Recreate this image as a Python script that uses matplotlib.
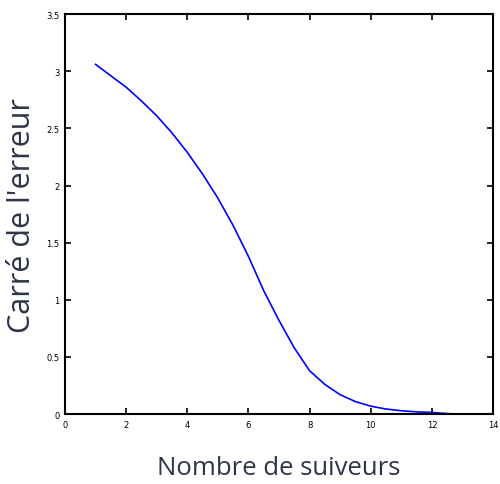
import matplotlib
matplotlib.use("Agg")
import matplotlib.pyplot as plt

# nombre de suiveurs vs carre de l'erreur
x_vals = [1, 1.5, 2, 2.5, 3, 3.5, 4, 4.5, 5, 5.5, 6, 6.5, 7, 7.5, 8,
          8.5, 9, 9.5, 10, 10.5, 11, 11.5, 12, 12.5, 13, 13.5, 14]
y_vals = [3.06, 2.96, 2.86, 2.74, 2.61, 2.46, 2.29, 2.10, 1.89, 1.65, 1.38,
          1.08, 0.82, 0.58, 0.38, 0.26, 0.17, 0.11, 0.07, 0.045, 0.03,
          0.02, 0.015, 0.005, 0.0, 0.0, 0.0]

x_ticks = [0, 2, 4, 6, 8, 10, 12, 14]
y_ticks = [0, 0.5, 1, 1.5, 2, 2.5, 3, 3.5]

label_color = "#2e3548"

fig = plt.figure(figsize=(5, 4.85), dpi=100)
ax = fig.add_axes([0.13, 0.144, 0.856, 0.825])

ax.plot(x_vals, y_vals, color="#0000ff", lw=1.2)

ax.set_xlim(0, 14)
ax.set_ylim(0, 3.5)
ax.set_xticks(x_ticks)
ax.set_yticks(y_ticks)
ax.set_xticklabels([str(t) for t in x_ticks])
ax.set_yticklabels(["0", "0.5", "1", "1.5", "2", "2.5", "3", "3.5"])
ax.tick_params(direction="in", length=4, width=1.2, labelsize=6,
               top=True, right=True, pad=4)
for s in ax.spines.values():
    s.set_linewidth(1.5)

ax.set_xlabel("Nombre de suiveurs", fontsize=18.5, family="Open Sans",
              color=label_color, labelpad=19)
ax.set_ylabel("Carré de l'erreur", fontsize=22, family="Open Sans",
              color=label_color)
ax.yaxis.set_label_coords(-0.065, 0.5)

plt.savefig("out.png", dpi=100)
plt.close()
